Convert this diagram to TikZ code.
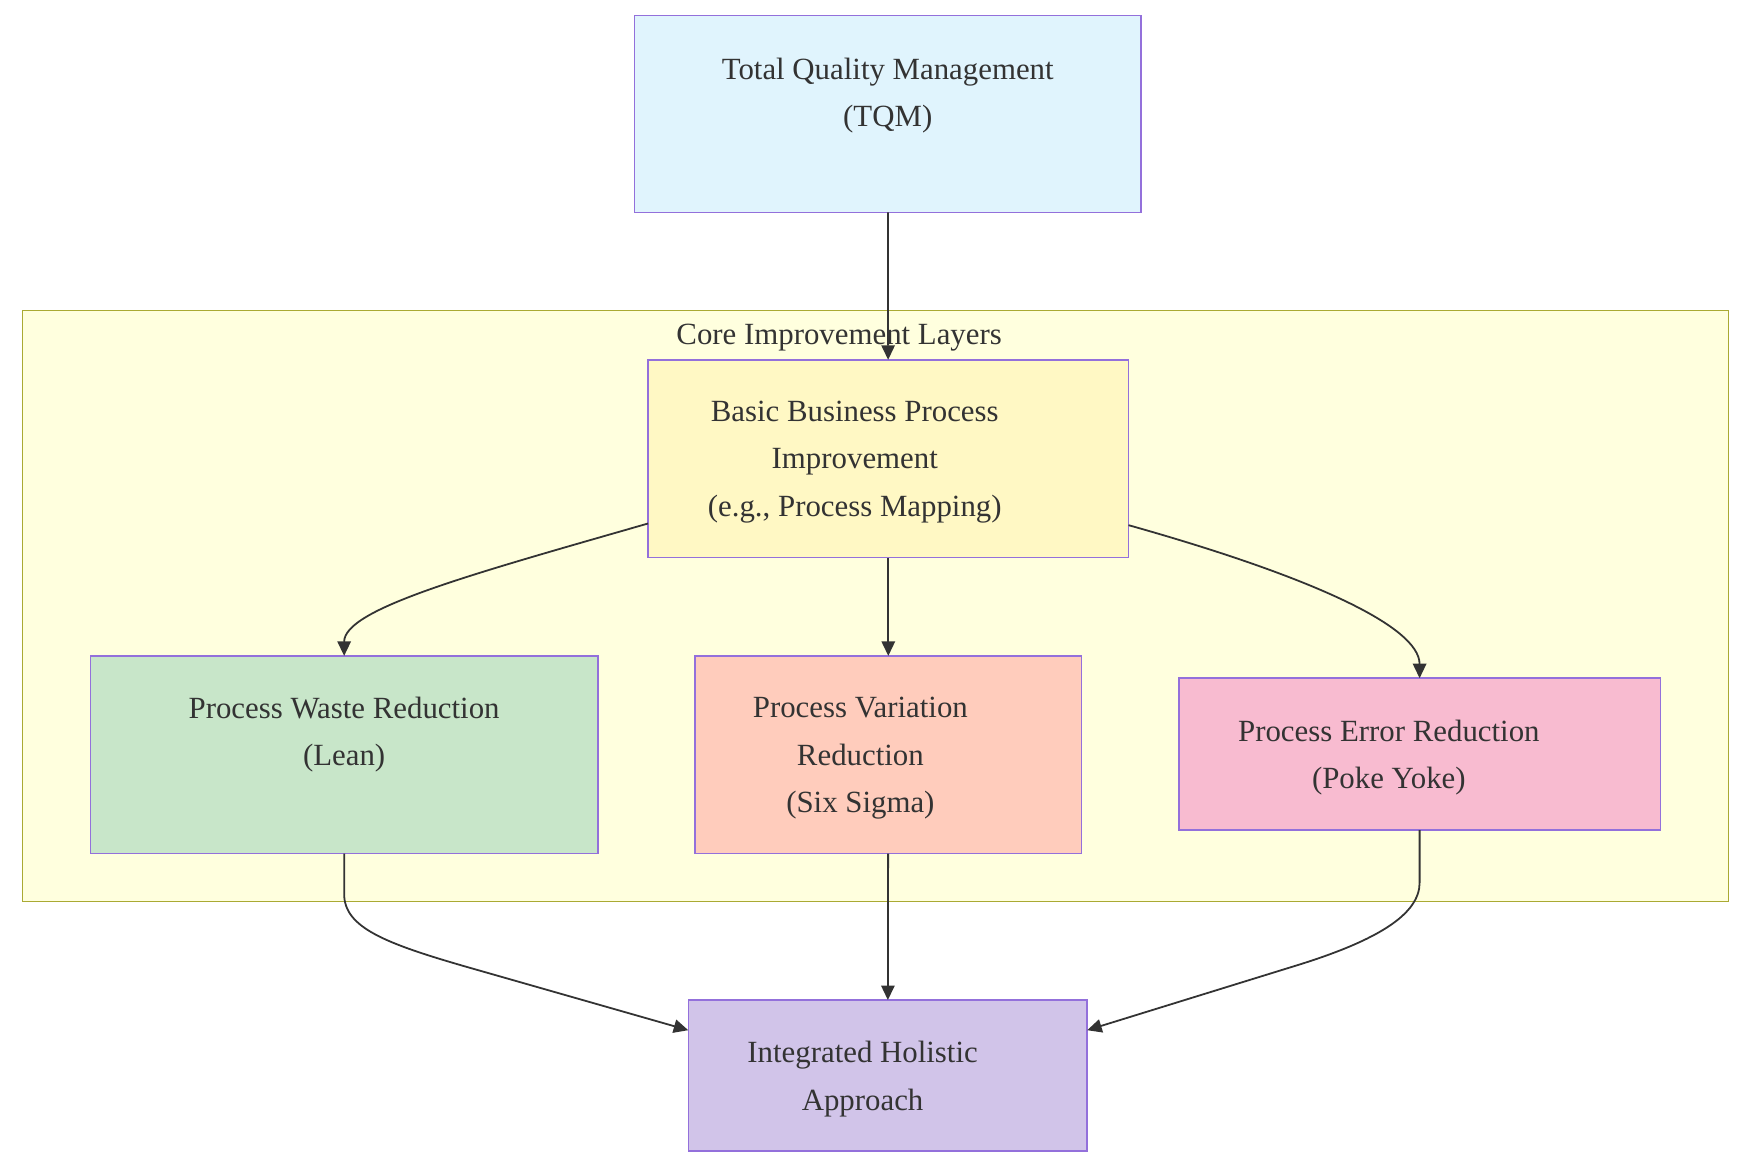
\documentclass[tikz,border=0pt]{standalone}
\usepackage{fontspec}
\setmainfont{Liberation Serif}
\usepackage{tikz}
\usetikzlibrary{arrows.meta,positioning,calc}
\definecolor{qualityBlue}{HTML}{E0F4FD}
\definecolor{qualityYellow}{HTML}{FFF8C4}
\definecolor{qualityGreen}{HTML}{C8E6C9}
\definecolor{qualitySalmon}{HTML}{FFCCBC}
\definecolor{qualityPink}{HTML}{F8BBD0}
\definecolor{qualityPurple}{HTML}{D1C4E9}
\definecolor{qualityBorder}{HTML}{9370DB}
\definecolor{layerFill}{HTML}{FFFFDE}
\definecolor{layerBorder}{HTML}{AAAA33}
\definecolor{qualityInk}{HTML}{333333}

\begin{document}
\begin{tikzpicture}[
  x=0.5pt,y=-0.5pt,
  stepbox/.style={
    draw=qualityBorder,
    line width=0.7pt,
    inner sep=0pt,
    outer sep=0pt
  },
  steptext/.style={
    align=center,
    text=qualityInk,
    inner sep=0pt,
    font=\fontsize{13.8pt}{21.3pt}\selectfont
  },
  layerbox/.style={
    draw=layerBorder,
    fill=layerFill,
    line width=0.7pt,
    inner sep=0pt,
    minimum width=763.5pt,
    minimum height=264.5pt
  },
  arrow/.style={-{Triangle[length=6.5pt,width=6pt]},line width=0.8pt,qualityInk}
]
  \useasboundingbox (0,0) rectangle (1568,1045);

  % cluster
  \node[layerbox] (core) at (783.5,542.5) {};
  \node[steptext] (coretitle) at (751,302) {Core Improvement Layers};

  \node[stepbox,fill=qualityBlue,minimum width=226.5pt,minimum height=88pt,
    label={[steptext,yshift=8.25pt]center:{Total Quality Management\\(TQM)}}] (tqm) at (794.5,102) {};
  \node[stepbox,fill=qualityYellow,minimum width=215pt,minimum height=88.5pt,
    label={[steptext,xshift=-15pt,yshift=-1.5pt]center:{Basic Business Process\\Improvement\\(e.g., Process Mapping)}}] (basic) at (795,410.5) {};
  \node[stepbox,fill=qualityGreen,minimum width=227pt,minimum height=88.5pt,
    label={[steptext,yshift=9pt]center:{Process Waste Reduction\\(Lean)}}] (waste) at (308,675.5) {};
  \node[stepbox,fill=qualitySalmon,minimum width=173pt,minimum height=88.5pt,
    label={[steptext,xshift=-12.5pt,yshift=-1.5pt]center:{Process Variation\\Reduction\\(Six Sigma)}}] (variation) at (795,675.5) {};
  \node[stepbox,fill=qualityPink,minimum width=215.5pt,minimum height=68pt,
    label={[steptext,xshift=-13.75pt,yshift=-1.5pt]center:{Process Error Reduction\\(Poke Yoke)}}] (error) at (1270.5,675) {};
  \node[stepbox,fill=qualityPurple,minimum width=178.5pt,minimum height=67.5pt,
    label={[steptext,xshift=-11.25pt,yshift=-1.5pt]center:{Integrated Holistic\\Approach}}] (holistic) at (794.5,962.5) {};

  \draw[arrow] (tqm) -- (basic);
  \draw[arrow] (basic) -- (variation);
  \draw[arrow] ([yshift=-29pt]basic.west) .. controls +(-80pt,-23pt) and +(0,21pt) .. (waste.north);
  \draw[arrow] ([yshift=-29.75pt]basic.east) .. controls +(80pt,-22.5pt) and +(0,23.5pt) .. (error.north);
  \draw[arrow] (variation) -- (holistic);
  \draw[arrow] (waste.south) -- ++(0,-18pt) .. controls +(0,-15pt) and +(-38pt,10.9pt) .. ++(56pt,-33pt) -- ([yshift=20.25pt]holistic.west);
  \draw[arrow] (error.south) -- ++(0,-23.5pt) .. controls +(0,-14pt) and +(36.5pt,11.3pt) .. ++(-55pt,-37pt) -- ([yshift=20.25pt]holistic.east);
\end{tikzpicture}
\end{document}
